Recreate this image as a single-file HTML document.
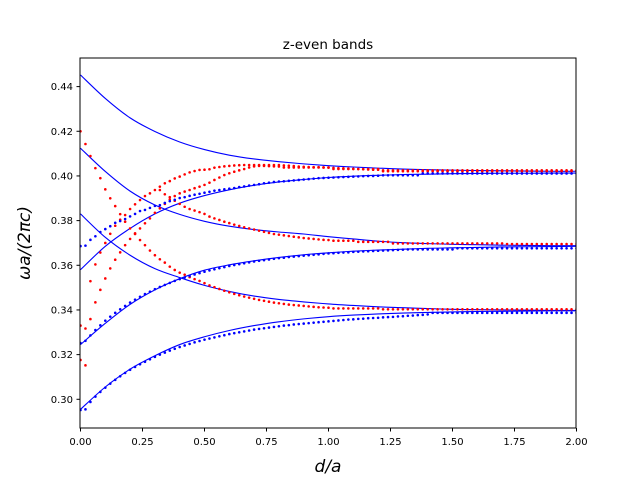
<!DOCTYPE html>
<html><head><meta charset="utf-8"><style>
html,body{margin:0;padding:0;background:#fff;}
svg{display:block;font-family:"DejaVu Sans","Liberation Sans",sans-serif;}
</style></head><body>
<svg id="chart" width="640" height="480" viewBox="0 0 640 480" xmlns="http://www.w3.org/2000/svg">
<defs><clipPath id="pc"><rect x="80" y="58" width="496" height="370"/></clipPath></defs>
<rect x="0" y="0" width="640" height="480" fill="#fff"/>
<text x="328" y="49" text-anchor="middle" font-size="13.5">z-even bands</text>
<g id="plot" clip-path="url(#pc)"></g>
<rect x="80" y="58" width="496" height="370" fill="none" stroke="#000" stroke-width="1"/>
<g id="xticks"></g>
<g id="yticks"></g>
<text x="328" y="472" text-anchor="middle" font-size="17" font-style="italic">d/a</text>
<text transform="translate(30,243) rotate(-90)" text-anchor="middle" font-size="17" font-style="italic">ωa/(2πc)</text>
</svg>
<script>
const xTicks = [0, 0.25, 0.5, 0.75, 1.0, 1.25, 1.5, 1.75, 2.0];
const xTickLabels = ["0.00","0.25","0.50","0.75","1.00","1.25","1.50","1.75","2.00"];
const yTicks = [0.30, 0.32, 0.34, 0.36, 0.38, 0.40, 0.42, 0.44];
const yTickLabels = ["0.30","0.32","0.34","0.36","0.38","0.40","0.42","0.44"];
const curveStep = 0.1;
const curve1 = [.4452,.4347,.4260,.4199,.4152,.4118,.4093,.4076,.4064,.4054,.4046,.4040,.4035,.4031,.4028,.4026,.4024,.4023,.4022,.4021,.4021];
const curve2 = [.4124,.4020,.3932,.3870,.3828,.3797,.3775,.3760,.3749,.3740,.3728,.3718,.3708,.3701,.3697,.3694,.3692,.369,.3689,.3688,.3688];
const curve3 = [.383,.3725,.3645,.3585,.3545,.351,.3483,.3462,.3447,.3436,.3427,.342,.3414,.341,.3406,.3403,.3401,.34,.3399,.3398,.3398];
const curve4 = [.358,.3685,.3765,.383,.3878,.3912,.3938,.3958,.3973,.3984,.3993,.3999,.4003,.4006,.4008,.401,.4011,.4012,.4012,.4013,.4013];
const curve5 = [.3245,.334,.3425,.349,.354,.3578,.3602,.362,.3635,.3647,.3656,.3663,.3668,.3672,.3676,.3678,.368,.3682,.3683,.3684,.3685];
const curve6 = [.2955,.3055,.3135,.3195,.3245,.328,.3308,.333,.3347,.336,.337,.3377,.3382,.3386,.3389,.3391,.3393,.3394,.3395,.3396,.3396];
const dotStep = 0.02;
function rep(v,n){return Array(n).fill(v);}
const blueTop = [.3686,.3688,.3714,.3730,.3749,.3762,.3775,.3790,.3798,.3807,.3819,.3830,.3843,.3848,.3857,.3866,.3869,.3879,.3887,.3893,.3901,.3905,.3911,.3916,.3920,.3925,.3929,.3934,.3937,.3940,.3943,.3946,.3950,.3953,.3957,.3960,.3963,.3967,.3970,.3973,.3975,.3976,.3978,.3980,.3982,.3984,.3986,.3988,.3990,.3991,.3992,.3993,.3994,.3995,.3996,.3997,.3998,.3999,.4000,.4000,.4001].concat(rep(.4003,8), rep(.4011,32));
const blueMid = [.3252,.3262,.3286,.3310,.3331,.3352,.3370,.3387,.3403,.3418,.3433,.3446,.3459,.3471,.3482,.3493,.3503,.3512,.3521,.3530,.3538,.3545,.3552,.3559,.3565,.3571,.3577,.3582,.3587,.3592,.3597,.3601,.3605,.3609,.3613,.3617,.3620,.3623,.3626,.3629,.3632,.3634,.3637,.3639,.3641,.3643,.3645,.3647,.3649,.3651,.3653,.3654,.3656,.3657,.3658,.3660,.3661,.3662,.3663,.3664,.3665,.3666,.3667,.3668,.3669,.3670].concat(rep(.3671,10), rep(.3676,25));
const blueLow = [.2952,.2955,.2988,.3012,.3033,.3052,.3070,.3087,.3103,.3118,.3132,.3145,.3157,.3168,.3179,.3190,.3200,.3209,.3218,.3226,.3234,.3241,.3248,.3255,.3261,.3267,.3272,.3277,.3282,.3287,.3292,.3296,.3300,.3304,.3308,.3312,.3315,.3318,.3321,.3324,.3327,.3330,.3332,.3335,.3337,.3339,.3341,.3343,.3345,.3347,.3349,.3351,.3353,.3355,.3357,.3358,.3360,.3361,.3363,.3364,.3365,.3367,.3368,.3369,.3371,.3372,.3374,.3375,.3377,.3378,.3380].concat(rep(.3387,30));
const red1 = [.4200,.4143,.4089,.4035,.3990,.3940,.3900,.3865,.3829,.3795,.3765,.3740,.3713,.3690,.3666,.3645,.3627,.3612,.3594,.3579,.3567,.3558,.3547,.3538,.3530,.3520,.3510,.3502,.3494,.3486,.3479,.3472,.3466,.3460,.3455,.3450,.3445,.3441,.3437,.3433,.3430,.3427,.3424,.3422,.3420,.3418,.3416,.3414,.3412,.3411,.3410].concat(rep(.3407,10), rep(.3403,40));
const red2 = [.3330,.3317,.3529,.3604,.3657,.3700,.3741,.3777,.3804,.3825,.3852,.3873,.3892,.3910,.3922,.3937,.3952,.3967,.3977,.3989,.3997,.4007,.4016,.4022,.4027,.4028,.4030,.4037,.4040,.4043,.4045,.4047,.4048].concat(rep(.4049,8), [.4047,.4046,.4044,.4042,.4041,.4040,.4039,.4039,.4038,.4037,.4036,.4035,.4034,.4033,.4032,.4031,.4030,.4029,.4028,.4028], rep(.4025,40));
const red3 = [.3176,.3152,.3359,.3434,.3490,.3541,.3586,.3625,.3658,.3690,.3718,.3743,.3765,.3788,.3810,.3835,.3855,.3875,.3895,.3910,.3922,.3930,.3937,.3945,.3952,.3960,.3970,.3982,.3993,.4004,.4012,.4019,.4025,.4031,.4038,.4043,.4045,.4045,.4044,.4043,.4042].concat(rep(.4038,10), rep(.4031,10), rep(.4021,40));
const red4 = rep(null,16).concat([.3937,.3918,.3905,.3889,.3875,.3862,.3852,.3845,.3838,.3830,.3818,.3810,.3803,.3795,.3789,.3782,.3776,.3770,.3765,.3760,.3755,.3750,.3745,.3740,.3737,.3734,.3731,.3728,.3725,.3722,.3720,.3718,.3716,.3714,.3713], rep(.3710,5), rep(.3705,7), rep(.3698,23), rep(.3695,15));

const NS = "http://www.w3.org/2000/svg";
const X0 = 80.5, XS = 248, Y44 = 86.6, YS = 2233.5;
function xs(d){ return X0 + d*XS; }
function ys(v){ return Y44 + (0.44 - v)*YS; }
const plot = document.getElementById('plot');

function curvePath(vals){
  const pts = vals.map((v,i)=>[xs(i*curveStep), ys(v)]);
  let s = "M"+pts[0][0].toFixed(2)+","+pts[0][1].toFixed(2);
  for(let i=0;i<pts.length-1;i++){
    const p0=pts[Math.max(0,i-1)], p1=pts[i], p2=pts[i+1], p3=pts[Math.min(pts.length-1,i+2)];
    const c1=[p1[0]+(p2[0]-p0[0])/6, p1[1]+(p2[1]-p0[1])/6];
    const c2=[p2[0]-(p3[0]-p1[0])/6, p2[1]-(p3[1]-p1[1])/6];
    s += " C"+c1[0].toFixed(2)+","+c1[1].toFixed(2)+" "+c2[0].toFixed(2)+","+c2[1].toFixed(2)+" "+p2[0].toFixed(2)+","+p2[1].toFixed(2);
  }
  return s;
}
const curves = [curve1,curve2,curve3,curve4,curve5,curve6];
curves.forEach((c,k)=>{
  const p = document.createElementNS(NS,'path');
  p.setAttribute('d', curvePath(c));
  p.setAttribute('fill','none');
  p.setAttribute('stroke','#0000ff');
  p.setAttribute('stroke-width','1.1');
  
  
  plot.appendChild(p);
});
function drawDots(vals, color, name){
  const g = document.createElementNS(NS,'g');
  
  
  vals.forEach((v,i)=>{
    if(v===null) return;
    const c = document.createElementNS(NS,'circle');
    c.setAttribute('cx', xs(i*dotStep).toFixed(2));
    c.setAttribute('cy', ys(v).toFixed(2));
    c.setAttribute('r','1.3');
    c.setAttribute('fill',color);
    
    
    g.appendChild(c);
  });
  plot.appendChild(g);
}
drawDots(red1,'#ff0000','red-series-1');
drawDots(red2,'#ff0000','red-series-2');
drawDots(red3,'#ff0000','red-series-3');
drawDots(red4,'#ff0000','red-series-4');
drawDots(blueTop,'#0000ff','blue-series-top');
drawDots(blueMid,'#0000ff','blue-series-mid');
drawDots(blueLow,'#0000ff','blue-series-low');

const xg = document.getElementById('xticks');
xTicks.forEach((t,i)=>{
  const l = document.createElementNS(NS,'line');
  l.setAttribute('x1',xs(t)); l.setAttribute('x2',xs(t));
  l.setAttribute('y1',428); l.setAttribute('y2',431.5);
  l.setAttribute('stroke','#000');
  
  
  xg.appendChild(l);
  const tx = document.createElementNS(NS,'text');
  tx.setAttribute('x',xs(t)); tx.setAttribute('y',445);
  tx.setAttribute('text-anchor','middle'); tx.setAttribute('font-size','10');
  tx.textContent = xTickLabels[i];
  
  
  xg.appendChild(tx);
});
const yg = document.getElementById('yticks');
yTicks.forEach((t,i)=>{
  const l = document.createElementNS(NS,'line');
  l.setAttribute('x1',76.5); l.setAttribute('x2',80);
  l.setAttribute('y1',ys(t)); l.setAttribute('y2',ys(t));
  l.setAttribute('stroke','#000');
  
  
  yg.appendChild(l);
  const tx = document.createElementNS(NS,'text');
  tx.setAttribute('x',73); tx.setAttribute('y',ys(t)+3.6);
  tx.setAttribute('text-anchor','end'); tx.setAttribute('font-size','10');
  tx.textContent = yTickLabels[i];
  
  
  yg.appendChild(tx);
});
</script>
</body></html>
